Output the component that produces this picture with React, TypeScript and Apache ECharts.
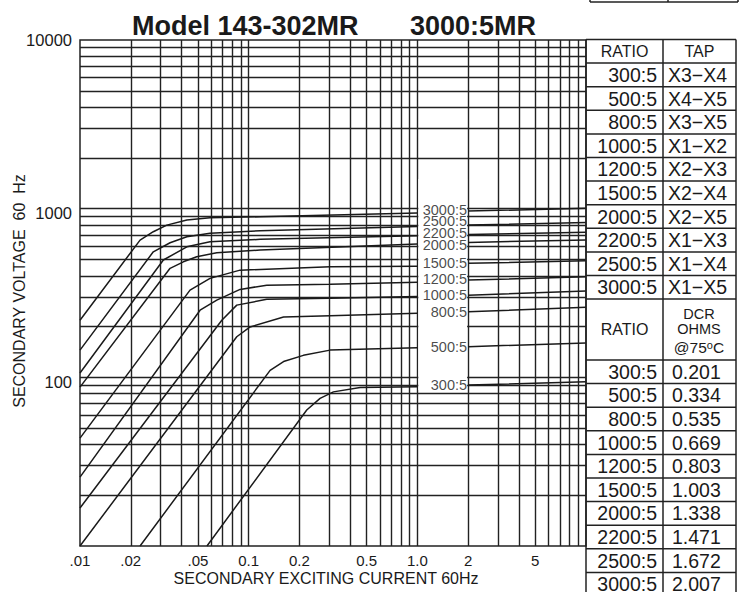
import React, { useEffect, useRef } from "react";
import * as echarts from "echarts";

const FONT = "'Liberation Sans', Arial, Helvetica, sans-serif";
const INK = "#1a1a1a";

const titleLeft = "Model 143-302MR";
const titleRight = "3000:5MR";
const xAxisTitle = "SECONDARY EXCITING CURRENT 60Hz";
const yAxisTitle = "SECONDARY VOLTAGE  60  Hz";

const ratios = ["300:5", "500:5", "800:5", "1000:5", "1200:5", "1500:5", "2000:5", "2200:5", "2500:5", "3000:5"];
const taps = ["X3−X4", "X4−X5", "X3−X5", "X1−X2", "X2−X3", "X2−X4", "X2−X5", "X1−X3", "X1−X4", "X1−X5"];
const dcrOhms = ["0.201", "0.334", "0.535", "0.669", "0.803", "1.003", "1.338", "1.471", "1.672", "2.007"];

// [exciting current A, secondary voltage V]
const c300 = [[0.0566, 10], [0.221, 64], [0.265, 75], [0.318, 82], [0.458, 87], [1, 88], [2, 90], [10, 94]];
const c500 = [[0.0227, 10], [0.134, 110], [0.161, 124], [0.211, 135], [0.304, 145], [1, 150], [2, 152], [10, 160]];
const c800 = [[0.01, 10], [0.085, 174], [0.102, 199], [0.161, 228], [0.304, 232], [1, 240], [2, 245], [10, 260]];
const c1000 = [[0.01, 16.8], [0.0693, 218], [0.085, 268], [0.128, 290], [0.304, 294], [1, 301], [2, 307], [10, 325]];
const c1200 = [[0.01, 25.6], [0.0515, 250], [0.0647, 287], [0.0889, 332], [0.128, 352], [0.304, 356], [1, 366], [2, 377], [10, 395]];
const c1500 = [[0.01, 43.6], [0.0449, 329], [0.059, 386], [0.0889, 432], [0.304, 452], [1, 455], [2, 474], [10, 491]];
const c2000 = [[0.01, 87.5], [0.0342, 443], [0.041, 484], [0.0492, 519], [0.0647, 548], [0.117, 568], [1, 617], [2, 631], [10, 651]];
const c2200 = [[0.01, 106], [0.0312, 496], [0.043, 594], [0.059, 636], [0.117, 658], [1, 690], [2, 704], [10, 724]];
const c2500 = [[0.01, 145], [0.0272, 555], [0.0342, 628], [0.043, 681], [0.059, 714], [0.117, 740], [1, 785], [2, 799], [10, 829]];
const c3000 = [[0.01, 218], [0.0227, 651], [0.0272, 730], [0.0327, 799], [0.043, 856], [0.059, 883], [0.117, 895], [1, 942], [2, 968], [10, 1004]];
const curves = [c300, c500, c800, c1000, c1200, c1500, c2000, c2200, c2500, c3000];

const xTickValues = [0.01, 0.02, 0.05, 0.1, 0.2, 0.5, 1, 2, 5];
const xTickLabels = [".01", ".02", ".05", "0.1", "0.2", "0.5", "1.0", "2", "5"];
const yTickValues = [100, 1000, 10000];
const yTickLabels = ["100", "1000", "10000"];

const decades = { x: [0.01, 0.1, 1], y: [10, 100, 1000] };
const multiples = [2, 3, 4, 5, 6, 7, 8, 9];

// small vertical nudges (px) that keep the stacked curve labels apart
const labelNudge = [0, 0, 0, 0, -1, 0, 2.5, -1.5, -4, -1.5];
const yTickShift = [4.5, 4.5, 0];

export default function App() {
  const ref = useRef<HTMLDivElement>(null);
  useEffect(() => {
    const el = ref.current!;
    const chart = echarts.init(el, null, { renderer: "svg" });

    const xGrid: number[] = [];
    decades.x.forEach((d) => multiples.forEach((m) => xGrid.push(+(d * m).toPrecision(3))));
    const yGrid: number[] = [];
    decades.y.forEach((d) => multiples.forEach((m) => yGrid.push(+(d * m).toPrecision(3))));
    xGrid.push(0.1, 1);
    yGrid.push(100, 1000);

    const gridSeries: any = {
      type: "line",
      data: [],
      z: 1,
      silent: true,
      markLine: {
        silent: true,
        z: 1,
        animation: false,
        symbol: ["none", "none"],
        label: { show: false },
        emphasis: { disabled: true },
        lineStyle: { color: "#222", width: 1.4, type: "solid" },
        data: [...xGrid.map((v) => ({ xAxis: v })), ...yGrid.map((v) => ({ yAxis: v }))],
      },
    };

    const curveSeries = curves.map((c, i) => ({
      type: "line",
      name: ratios[i],
      z: 10,
      silent: true,
      showSymbol: false,
      symbol: "none",
      connectNulls: false,
      lineStyle: { color: INK, width: 1.5 },
      data: [...c.filter((p) => p[0] <= 1), [1.5, "-"], ...c.filter((p) => p[0] >= 2)],
    }));

    const labelSeries: any = {
      type: "scatter",
      z: 12,
      silent: true,
      symbolSize: 0.01,
      itemStyle: { color: "transparent" },
      data: curves.map((c, i) => ({
        name: ratios[i],
        value: c.find((p) => p[0] === 2),
        label: { offset: [0, labelNudge[i]] },
      })),
      label: {
        show: true,
        position: "left",
        distance: 1,
        formatter: (p: any) => p.name,
        fontSize: 14.5,
        lineHeight: 11,
        fontFamily: FONT,
        color: INK,
      },
    };

    chart.setOption({
      animation: false,
      grid: {
        left: 80,
        top: 40,
        width: 506,
        height: 506,
        show: true,
        borderColor: "#222",
        borderWidth: 1.5,
        backgroundColor: "transparent",
      },
      xAxis: {
        type: "log",
        logBase: 10,
        min: 0.01,
        max: 10,
        axisLine: { show: false },
        axisTick: { show: false },
        axisLabel: { show: false },
        splitLine: { show: false },
      },
      yAxis: {
        type: "log",
        logBase: 10,
        min: 10,
        max: 10000,
        axisLine: { show: false },
        axisTick: { show: false },
        axisLabel: { show: false },
        splitLine: { show: false },
      },
      series: [gridSeries, ...curveSeries, labelSeries],
    });

    const toPx = (x: number, y: number) => chart.convertToPixel({ gridIndex: 0 }, [x, y]) as number[];
    const [gx0, gy0] = toPx(0.01, 10);

    const txt = (text: string, x: number, y: number, size: number, align = "center", extra: any = {}) => ({
      type: "text",
      x,
      y,
      silent: true,
      z: 20,
      ...extra,
      style: {
        text,
        fontSize: size,
        fontFamily: FONT,
        fill: INK,
        align,
        verticalAlign: "middle",
        textAlign: align,
        textVerticalAlign: "middle",
        ...(extra.style || {}),
      },
    });
    const line = (x1: number, y1: number, x2: number, y2: number) => ({
      type: "line",
      silent: true,
      z: 20,
      shape: { x1, y1, x2, y2 },
      style: { stroke: "#222", lineWidth: 1.5 },
    });

    const graphics: any[] = [];

    // white label box between 1.0 and 2
    const [bx1, by1] = toPx(1, 1500);
    const [bx2, by2] = toPx(2, 84);
    graphics.push({
      type: "rect",
      silent: true,
      z: 6,
      shape: { x: bx1 + 1, y: by1, width: bx2 - bx1 - 2, height: by2 - by1 },
      style: { fill: "#fff" },
    });

    // titles
    graphics.push(txt(titleLeft, 132, 25.5, 27, "left", { style: { fontWeight: "bold" } }));
    graphics.push(txt(titleRight, 410, 25.5, 27, "left", { style: { fontWeight: "bold" } }));

    // tick labels
    xTickValues.forEach((v, i) => {
      const [px] = toPx(v, 10);
      graphics.push(txt(xTickLabels[i], px, gy0 + 14, 15));
    });
    yTickValues.forEach((v, i) => {
      const [, py] = toPx(0.01, v);
      graphics.push(txt(yTickLabels[i], gx0 - 8, py + yTickShift[i], 16.5, "right"));
    });

    // axis titles
    graphics.push(txt(xAxisTitle, 326, gy0 + 32, 16));
    graphics.push(txt(yAxisTitle, 19, 291, 16, "center", { rotation: Math.PI / 2 }));

    // table
    const tx0 = 586, tx1 = 663, tx2 = 736;
    const rowH = 23.6;
    const top1 = 39.5;
    const bot1 = top1 + rowH * 11;
    const top2 = 360;
    graphics.push(line(tx0, top1, tx2, top1));
    for (let k = 1; k <= 11; k++) graphics.push(line(tx0, top1 + rowH * k, tx2, top1 + rowH * k));
    for (let k = 0; k <= 10; k++) graphics.push(line(tx0, top2 + rowH * k, tx2, top2 + rowH * k));
    graphics.push(line(tx0, top1, tx0, 600));
    graphics.push(line(tx1, top1, tx1, 600));
    graphics.push(line(tx2, top1, tx2, 600));
    // cut-off box at the top
    graphics.push(line(590, 2, 738, 2));
    graphics.push(line(590, -5, 590, 2));
    graphics.push(line(668, -5, 668, 2));
    graphics.push(line(738, -5, 738, 2));

    graphics.push(txt("RATIO", (tx0 + tx1) / 2, top1 + rowH / 2, 16));
    graphics.push(txt("TAP", (tx1 + tx2) / 2, top1 + rowH / 2, 16));
    ratios.forEach((r, i) => {
      const cy = top1 + rowH * (i + 1) + rowH / 2;
      graphics.push(txt(r, 657, cy, 19.5, "right"));
      graphics.push(txt(taps[i], 668, cy, 19.5, "left"));
    });
    graphics.push(txt("RATIO", (tx0 + tx1) / 2, (bot1 + top2) / 2, 16));
    graphics.push(txt("DCR", 699, 314, 14.5));
    graphics.push(txt("OHMS", 699, 328.5, 14.5));
    graphics.push({
      type: "text",
      x: 699,
      y: 347,
      silent: true,
      z: 20,
      style: {
        text: "{a|@75}{b|o}{a|C}",
        align: "center",
        verticalAlign: "middle",
        textAlign: "center",
        textVerticalAlign: "middle",
        fill: INK,
        rich: {
          a: { fontSize: 15.5, fontFamily: FONT, fill: INK, color: INK, lineHeight: 16, verticalAlign: "bottom" },
          b: { fontSize: 11, fontFamily: FONT, fill: INK, color: INK, lineHeight: 16, verticalAlign: "top" },
        },
      },
    });
    ratios.forEach((r, i) => {
      const cy = top2 + rowH * i + rowH / 2;
      graphics.push(txt(r, 657, cy, 19.5, "right"));
      graphics.push(txt(dcrOhms[i], 672, cy, 19.5, "left"));
    });

    chart.setOption({ graphic: graphics });

    return () => chart.dispose();
  }, []);

  return (
    <div
      ref={ref}
      style={{ position: "fixed", left: 0, top: 0, width: 743, height: 592, background: "#fff" }}
    />
  );
}
